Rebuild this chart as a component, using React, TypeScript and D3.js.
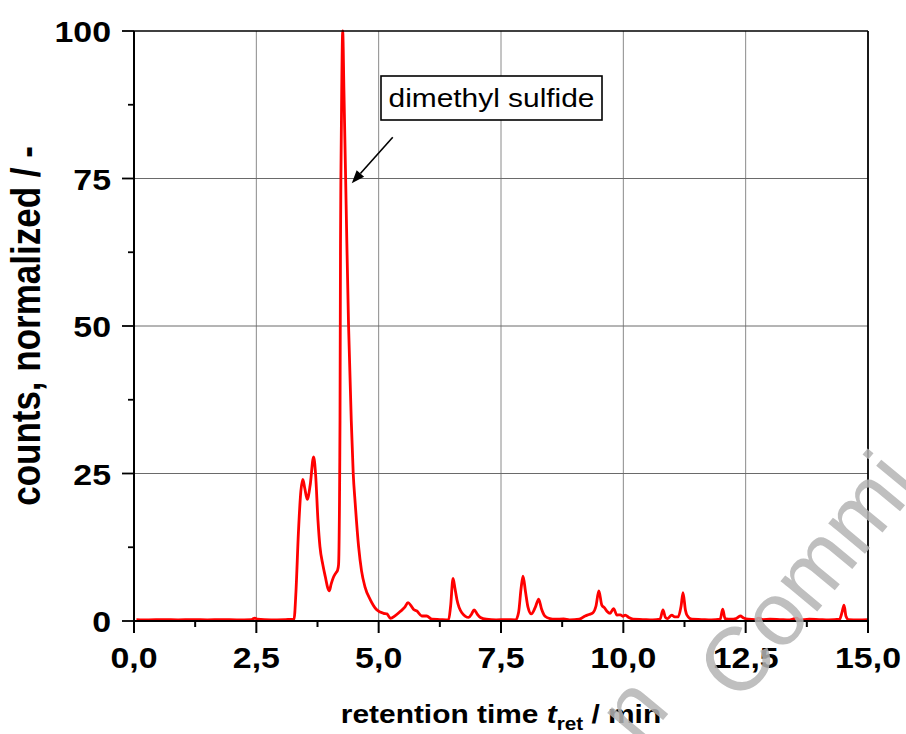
import React from "react";
import * as d3 from "d3";

const retentionTime: number[] = [
  0.05, 0.3, 0.6, 0.9, 1.2, 1.5, 1.8, 2.1, 2.4, 2.47, 2.52, 2.8, 3.1, 3.27,
  3.31, 3.36, 3.41, 3.45, 3.49, 3.54, 3.6, 3.67, 3.71, 3.76, 3.8, 3.86, 3.91, 3.96, 3.99,
  4.03, 4.08, 4.13, 4.16, 4.18, 4.21, 4.22, 4.228, 4.245, 4.265, 4.29, 4.325, 4.35, 4.385,
  4.44, 4.48, 4.52, 4.59, 4.65, 4.72, 4.83, 4.96, 5.1, 5.17, 5.24, 5.34, 5.44,
  5.53, 5.6, 5.66, 5.71, 5.78, 5.88, 5.98, 6.09, 6.25, 6.43, 6.47, 6.52, 6.56, 6.6,
  6.7, 6.84, 6.9, 6.95, 7.02, 7.08, 7.2, 7.4, 7.6, 7.8, 7.86, 7.91, 7.95, 8.0, 8.05,
  8.12, 8.2, 8.27, 8.33, 8.4, 8.5, 8.6, 8.78, 8.9, 9.1, 9.22, 9.3, 9.38, 9.44, 9.5,
  9.56, 9.62, 9.67, 9.73, 9.8, 9.87, 9.94, 9.99, 10.04, 10.11, 10.2, 10.4, 10.6,
  10.75, 10.81, 10.86, 10.9, 10.99, 11.05, 11.12, 11.18, 11.22, 11.27, 11.3, 11.4,
  11.6, 11.8, 11.98, 12.03, 12.08, 12.2, 12.3, 12.39, 12.46, 12.55, 12.7, 12.76,
  12.85, 13.0, 13.2, 13.4, 13.54, 13.6, 13.8, 14.0, 14.2, 14.42, 14.47, 14.51,
  14.55, 14.6, 14.8, 15.0,
];

const countsNormalized: number[] = [
  0.25, 0.2, 0.25, 0.2, 0.25, 0.2, 0.25, 0.2, 0.25, 0.5, 0.3, 0.2, 0.25, 0.3,
  5, 15, 22, 24.0, 22.5, 20.6, 23, 27.8, 25, 17, 12.6, 9.5, 7.5, 5.6, 5.1,
  6.3, 7.5, 8.2, 8.6, 9.5, 34, 64, 75, 90, 100, 90, 75, 64, 50,
  34, 25, 20, 12.6, 8.5, 5.8, 3.6, 1.9, 1.3, 1.2, 0.45, 0.9, 1.6,
  2.3, 3.1, 2.6, 2.0, 1.7, 0.85, 0.85, 0.3, 0.25, 0.2, 2.5, 7.2, 5.5, 3.6,
  1.4, 0.6, 1.2, 1.9, 1.1, 0.6, 0.3, 0.2, 0.25, 0.2, 1.5, 5.5, 7.6, 5.0, 2.4,
  1.2, 2.3, 3.7, 2.0, 0.8, 0.4, 0.3, 0.35, 0.2, 0.3, 0.85, 1.1, 1.4, 2.5, 5.1,
  2.7, 2.2, 1.6, 1.3, 2.1, 1.0, 1.05, 0.8, 1.0, 0.6, 0.3, 0.25, 0.2,
  0.3, 1.9, 0.6, 0.4, 1.0, 0.7, 0.7, 2.5, 4.8, 1.8, 1.0, 0.3,
  0.25, 0.2, 0.3, 2.0, 0.4, 0.3, 0.4, 0.85, 0.5, 0.3, 0.25, 0.5,
  0.25, 0.3, 0.25, 0.2, 0.5, 0.2, 0.3, 0.25, 0.2, 0.3, 1.5, 2.7,
  0.8, 0.25, 0.2, 0.25,
];

const xMajorTicks: number[] = [0, 2.5, 5, 7.5, 10, 12.5, 15];
const xTickLabels: string[] = ["0,0", "2,5", "5,0", "7,5", "10,0", "12,5", "15,0"];
const xMinorTicks: number[] = [1.25, 3.75, 6.25, 8.75, 11.25, 13.75];
const yMajorTicks: number[] = [0, 25, 50, 75, 100];
const yTickLabels: string[] = ["0", "25", "50", "75", "100"];
const yMinorTicks: number[] = [12.5, 37.5, 62.5, 87.5];

const annotationLabel = "dimethyl sulfide";
const annotationTarget = { t: 4.45, v: 74.2 };

export default function App() {
  const W = 906;
  const H = 734;
  const left = 134;
  const right = 868;
  const top = 31;
  const bottom = 621;

  const x = d3.scaleLinear().domain([0, 15]).range([left, right]);
  const y = d3.scaleLinear().domain([0, 100]).range([bottom, top]);

  const points: [number, number][] = retentionTime.map((t, i) => [t, countsNormalized[i]]);
  const line = d3
    .line<[number, number]>()
    .x((d) => x(d[0]))
    .y((d) => y(d[1]))
    .curve(d3.curveMonotoneX);

  const font = "'Liberation Sans', Arial, sans-serif";
  const sx = 1.13;

  // arrow
  const ax2 = x(annotationTarget.t);
  const ay2 = y(annotationTarget.v);
  const ax1 = ax2 + 41;
  const ay1 = ay2 - 46;
  const ang = Math.atan2(ay2 - ay1, ax2 - ax1);
  const headLen = 13;
  const headW = 5;
  const hx = ax2 - headLen * Math.cos(ang);
  const hy = ay2 - headLen * Math.sin(ang);
  const px = -Math.sin(ang) * headW;
  const py = Math.cos(ang) * headW;

  return (
    <svg
      width={W}
      height={H}
      viewBox={`0 0 ${W} ${H}`}
      style={{ position: "absolute", left: 0, top: 0, background: "#fff" }}
    >
      <rect x={0} y={0} width={W} height={H} fill="#fff" />
      {/* grid */}
      {xMajorTicks.slice(1, -1).map((t) => (
        <line key={"gx" + t} x1={x(t)} x2={x(t)} y1={top} y2={bottom} stroke="#8a8a8a" strokeWidth={1} />
      ))}
      {yMajorTicks.slice(1, -1).map((v) => (
        <line key={"gy" + v} x1={left} x2={right} y1={y(v)} y2={y(v)} stroke="#6a6a6a" strokeWidth={1} />
      ))}

      {/* data */}
      <path d={line(points) || ""} fill="none" stroke="#ff0000" strokeWidth={2.8} strokeLinejoin="round" />

      {/* frame */}
      <line x1={left} x2={right} y1={top} y2={top} stroke="#000" strokeWidth={1.6} />
      <line x1={right} x2={right} y1={top} y2={bottom} stroke="#000" strokeWidth={1.8} />
      <line x1={left} x2={left} y1={top} y2={bottom + 1} stroke="#000" strokeWidth={2} />
      <line x1={left - 1} x2={right + 1} y1={bottom} y2={bottom} stroke="#000" strokeWidth={2} />

      {/* x ticks */}
      {xMajorTicks.map((t) => (
        <line key={"xt" + t} x1={x(t)} x2={x(t)} y1={bottom} y2={bottom + 12} stroke="#000" strokeWidth={2} />
      ))}
      {xMinorTicks.map((t) => (
        <line key={"xm" + t} x1={x(t)} x2={x(t)} y1={bottom} y2={bottom + 6} stroke="#000" strokeWidth={2} />
      ))}
      {/* y ticks */}
      {yMajorTicks.map((v) => (
        <line key={"yt" + v} x1={left - 12} x2={left} y1={y(v)} y2={y(v)} stroke="#000" strokeWidth={1.8} />
      ))}
      {yMinorTicks.map((v) => (
        <line key={"ym" + v} x1={left - 6} x2={left} y1={y(v)} y2={y(v)} stroke="#000" strokeWidth={1.8} />
      ))}

      {/* x tick labels */}
      {xMajorTicks.map((t, i) => (
        <g key={"xl" + t} transform={`translate(${x(t)},${668}) scale(${sx},1)`}>
          <text x={0} y={0} textAnchor="middle" fontFamily={font} fontWeight="bold" fontSize={30} fill="#000">
            {xTickLabels[i]}
          </text>
        </g>
      ))}
      {/* y tick labels */}
      {yMajorTicks.map((v, i) => (
        <g key={"yl" + v} transform={`translate(${111},${y(v) + 11}) scale(${sx},1)`}>
          <text x={0} y={0} textAnchor="end" fontFamily={font} fontWeight="bold" fontSize={30} fill="#000">
            {yTickLabels[i]}
          </text>
        </g>
      ))}

      {/* axis titles */}
      <g transform={`translate(${(left + right) / 2},${723}) scale(1.15,1)`}>
        <text x={0} y={0} textAnchor="middle" fontFamily={font} fontWeight="bold" fontSize={26} fill="#000">
          retention time{" "}
          <tspan fontStyle="italic">t</tspan>
          <tspan fontSize={18} dy={7}>ret</tspan>
          <tspan dy={-7}> / min</tspan>
        </text>
      </g>
      <g transform={`translate(${40},${(top + bottom) / 2}) scale(1.15,1) rotate(-90)`}>
        <text x={0} y={0} textAnchor="middle" fontFamily={font} fontWeight="bold" fontSize={35} fill="#000">
          counts, normalized / -
        </text>
      </g>

      {/* annotation */}
      <rect x={381} y={76} width={221} height={44} fill="#fff" stroke="#000" strokeWidth={1.6} />
      <g transform={`translate(${491.5},${107}) scale(1.15,1)`}>
        <text x={0} y={0} textAnchor="middle" fontFamily={font} fontSize={26} fill="#000">
          {annotationLabel}
        </text>
      </g>
      <line x1={ax1} y1={ay1} x2={hx} y2={hy} stroke="#000" strokeWidth={1.6} />
      <polygon
        points={`${ax2},${ay2} ${hx + px},${hy + py} ${hx - px},${hy - py}`}
        fill="#000"
      />

      {/* watermark */}
      <g transform="translate(740,705) rotate(-50.4)" opacity={0.85}>
        <text x={0} y={0} fontFamily={font} fontSize={90} fill="#b4b4b4">
          Commi
        </text>
      </g>
      <g transform="translate(640,748) rotate(-50.4)" opacity={0.85}>
        <text x={0} y={0} fontFamily={font} fontSize={90} fill="#b4b4b4">
          n
        </text>
      </g>
    </svg>
  );
}
